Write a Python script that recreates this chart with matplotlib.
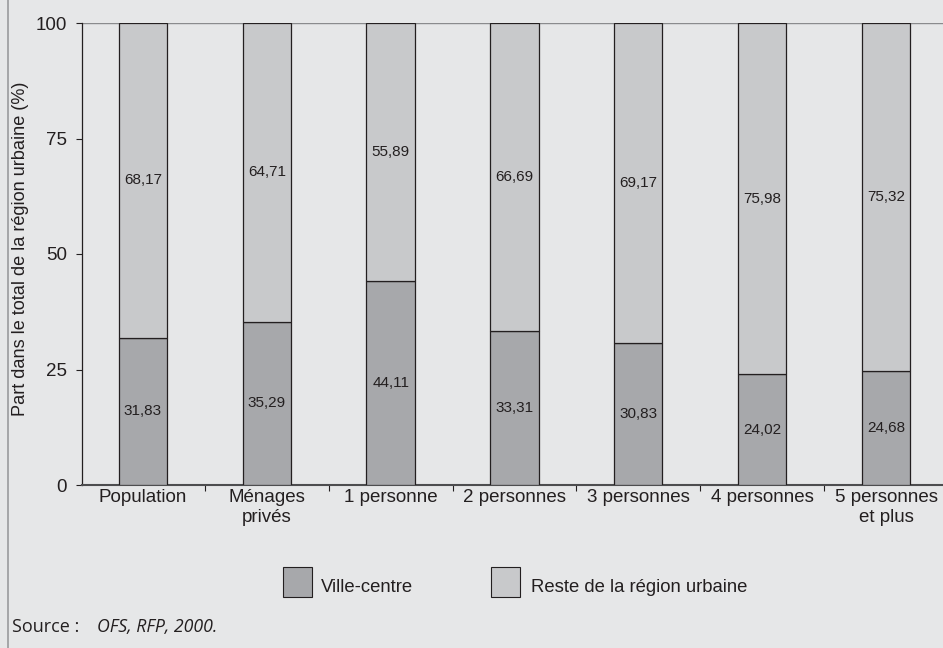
import matplotlib.pyplot as plt
from matplotlib.patches import Rectangle
from matplotlib.lines import Line2D

categories = ["Population", "Ménages\nprivés", "1 personne", "2 personnes",
              "3 personnes", "4 personnes", "5 personnes\net plus"]
ville_centre = [31.83, 35.29, 44.11, 33.31, 30.83, 24.02, 24.68]
reste_region = [68.17, 64.71, 55.89, 66.69, 69.17, 75.98, 75.32]
y_ticks = [0, 25, 50, 75, 100]
legend_labels = ["Ville-centre", "Reste de la région urbaine"]

bg = "#e6e7e8"
dark = "#a7a8ab"
light = "#c8c9cb"
ink = "#231f20"

plt.rcParams["font.family"] = ["Liberation Sans", "DejaVu Sans"]

W, H = 943, 648
fig = plt.figure(figsize=(W / 100, H / 100), dpi=100, facecolor=bg)
ax = fig.add_axes([82 / W, 1 - 485 / H, 1 - 82 / W, (485 - 23) / H])
ax.set_facecolor(bg)

x = list(range(len(categories)))
w = 0.39
ax.bar(x, ville_centre, width=w, color=dark, edgecolor=ink, linewidth=0.9, zorder=3)
ax.bar(x, reste_region, width=w, bottom=ville_centre, color=light,
       edgecolor=ink, linewidth=0.9, zorder=3)

def fmt(v):
    return f"{v:.2f}".replace(".", ",")

for xi, vc, rr in zip(x, ville_centre, reste_region):
    ax.text(xi, vc / 2, fmt(vc), ha="center", va="center", fontsize=11, color=ink, zorder=4)
    ax.text(xi, vc + rr / 2, fmt(rr), ha="center", va="center", fontsize=11, color=ink, zorder=4)

ax.set_xlim(-0.492, 6.46)
ax.set_ylim(0, 100)
ax.set_yticks(y_ticks)
ax.set_yticklabels([str(t) for t in y_ticks], fontsize=13.5, color=ink)
ax.tick_params(axis="y", length=4, width=0.8, color=ink, pad=7)

ax.set_xticks(x)
ax.set_xticklabels(categories, fontsize=13.5, color=ink, linespacing=1.25)
ax.set_xticks([i + 0.5 for i in range(len(categories) - 1)], minor=True)
ax.tick_params(axis="x", which="major", length=0, pad=3)
ax.tick_params(axis="x", which="minor", length=4, width=0.8, color=ink)

for s in ["top", "right"]:
    ax.spines[s].set_visible(False)
ax.spines["left"].set_color(ink)
ax.spines["left"].set_linewidth(0.9)
ax.spines["bottom"].set_color("#4d4d4f")
ax.spines["bottom"].set_linewidth(1.5)
ax.axhline(100, color="#8a8b8d", linewidth=1.0, zorder=2)

fig.text(21 / W, 1 - 249 / H, "Part dans le total de la région urbaine (%)", rotation=90,
         fontsize=13.1, color=ink, ha="center", va="center")

# left frame line
fig.add_artist(Line2D([8 / W, 8 / W], [0, 1], color="#9a9b9d", linewidth=1.2,
                      transform=fig.transFigure))

# legend drawn as figure-level boxes and labels
for (x0, tx), col, lab in zip([(283, 321), (491, 531)], [dark, light], legend_labels):
    fig.add_artist(Rectangle((x0 / W, 1 - 597 / H), 29 / W, 30 / H, facecolor=col,
                             edgecolor=ink, linewidth=0.8, transform=fig.transFigure))
    fig.text(tx / W, 1 - 588 / H, lab, fontsize=13.3, color=ink, ha="left", va="center")

fig.text(12 / W, 1 - 627 / H, "Source :", fontsize=13, family=["Open Sans", "DejaVu Sans"],
         color=ink, va="center", ha="left")
fig.text(97 / W, 1 - 627 / H, "OFS, RFP, 2000.", fontsize=12.8, style="italic",
         family=["Open Sans", "DejaVu Sans"], color=ink, va="center", ha="left")

fig.savefig("out.png", dpi=100, facecolor=bg)
